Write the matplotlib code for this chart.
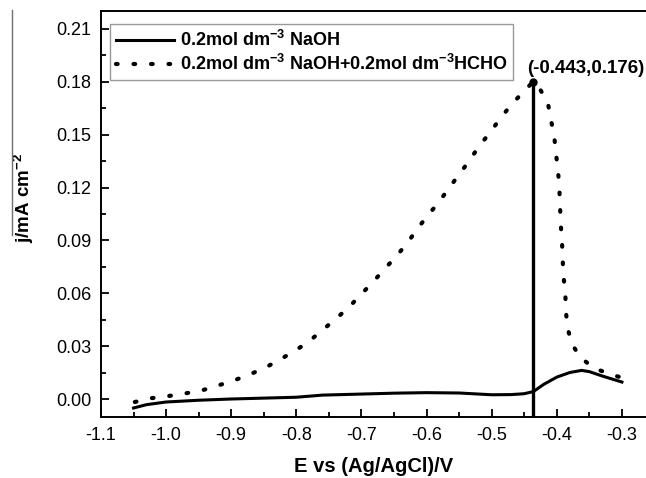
import numpy as np
import matplotlib
matplotlib.use("Agg")
import matplotlib.pyplot as plt
from matplotlib.lines import Line2D
from matplotlib.ticker import MultipleLocator

plt.rcParams['font.family'] = ['Liberation Sans', 'DejaVu Sans']
plt.rcParams['mathtext.fontset'] = 'custom'
plt.rcParams['mathtext.rm'] = 'Liberation Sans:bold'
plt.rcParams['mathtext.bf'] = 'Liberation Sans:bold'
plt.rcParams['mathtext.default'] = 'bf'

# NaOH only (solid)
E_naoh = [-1.05, -1.03, -1.0, -0.95, -0.9, -0.85, -0.8, -0.76, -0.7, -0.65, -0.6,
          -0.55, -0.5, -0.47, -0.45, -0.436, -0.42, -0.40, -0.38, -0.362, -0.35,
          -0.33, -0.3]
j_naoh = [-0.0049, -0.0030, -0.0015, -0.0005, 0.0002, 0.0007, 0.0012, 0.0024, 0.0030,
          0.0035, 0.0038, 0.0036, 0.0026, 0.0027, 0.0032, 0.0044, 0.0085, 0.0126,
          0.0152, 0.0164, 0.0157, 0.0132, 0.0098]

# NaOH + HCHO (dotted)
E_hcho = [-1.048, -1.022, -0.996, -0.970, -0.943, -0.918, -0.893, -0.869, -0.845,
          -0.823, -0.800, -0.780, -0.760, -0.739, -0.719, -0.701, -0.683, -0.666,
          -0.647, -0.630, -0.615, -0.599, -0.582, -0.566, -0.550, -0.535, -0.520,
          -0.503, -0.488, -0.472, -0.454, -0.436, -0.428, -0.414, -0.409, -0.404,
          -0.401, -0.398, -0.396, -0.395, -0.394, -0.392, -0.391, -0.390, -0.387,
          -0.386, -0.384, -0.377, -0.365, -0.344, -0.318, -0.300]
j_hcho = [-0.0015, 0.0007, 0.0019, 0.0034, 0.0053, 0.0081, 0.0111, 0.0145, 0.0185,
          0.0230, 0.0280, 0.0330, 0.0392, 0.0457, 0.0523, 0.0593, 0.0662, 0.0732,
          0.0809, 0.0883, 0.0962, 0.1038, 0.1113, 0.1194, 0.1274, 0.1349, 0.1430,
          0.1510, 0.1585, 0.1660, 0.1732, 0.1800, 0.1770, 0.1685, 0.1585, 0.1490,
          0.1387, 0.1289, 0.1189, 0.1094, 0.0996, 0.0896, 0.0798, 0.0708, 0.0604,
          0.0506, 0.0411, 0.0317, 0.0242, 0.0179, 0.0142, 0.0123]

labels = ['0.2mol dm$^{-3}$ NaOH',
          '0.2mol dm$^{-3}$ NaOH+0.2mol dm$^{-3}$HCHO']

peak_E = -0.436
peak_j = 0.180
peak_text = '(-0.443,0.176)'

fig = plt.figure(figsize=(6.46, 4.78), dpi=100)
ax = fig.add_axes([0.1563, 0.1276, 0.8437, 0.8494])

ax.plot(E_naoh, j_naoh, color='black', lw=2.2, label=labels[0])
ax.plot(E_hcho, j_hcho, color='black', lw=3.0, linestyle=(0, (0.4, 3.8)),
        dash_capstyle='round', label=labels[1])

# peak marker line
ax.plot([peak_E, peak_E], [-0.01, peak_j], color='black', lw=2.4)
ax.plot(peak_E, peak_j, 'o', color='black', ms=5)
ax.text(peak_E - 0.010, peak_j + 0.0075, peak_text, fontsize=13.5,
        fontweight='bold', va='center', ha='left')

ax.set_xlim(-1.1, -0.263)
ax.set_ylim(-0.01, 0.22)
ax.xaxis.set_minor_locator(MultipleLocator(0.05))
ax.yaxis.set_minor_locator(MultipleLocator(0.015))
xt = np.arange(-1.1, -0.25, 0.1)
yt = np.arange(0, 0.22, 0.03)
ax.set_xticks(xt)
ax.set_xticklabels(['%.1f' % v for v in xt])
ax.set_yticks(yt)
ax.set_yticklabels(['%.2f' % v for v in yt])
ax.tick_params(which='both', direction='in', width=1.3, labelsize=13)
ax.tick_params(which='major', length=6, pad=7)
ax.tick_params(which='minor', length=3.5)
ax.tick_params(axis='x', which='both', top=False)
ax.tick_params(axis='y', which='both', right=False)
ax.spines['right'].set_visible(False)
for s in ['left', 'bottom', 'top']:
    ax.spines[s].set_linewidth(1.4)

ax.set_xlabel('E vs (Ag/AgCl)/V', fontsize=14.5, fontweight='bold')
ax.xaxis.set_label_coords(0.5, -0.098)
ax.set_ylabel('j/mA cm$^{-2}$', fontsize=13.5, fontweight='bold')
ax.yaxis.set_label_coords(-0.12, 0.54)

# thin line at left edge of the figure
fig.add_artist(Line2D([12 / 646, 12 / 646], [1 - 10 / 478, 1 - 235 / 478],
                      color='#707070', lw=1.0))

leg = ax.legend(loc='upper left', bbox_to_anchor=(0.0165, 0.968),
                borderaxespad=0, frameon=True, fancybox=False,
                handlelength=3.2, borderpad=0.32, labelspacing=0.25,
                handletextpad=0.35, prop={'weight': 'bold', 'size': 13})
leg.get_frame().set_edgecolor('#808080')
leg.get_frame().set_linewidth(1.0)

fig.savefig('out.png', dpi=100)
